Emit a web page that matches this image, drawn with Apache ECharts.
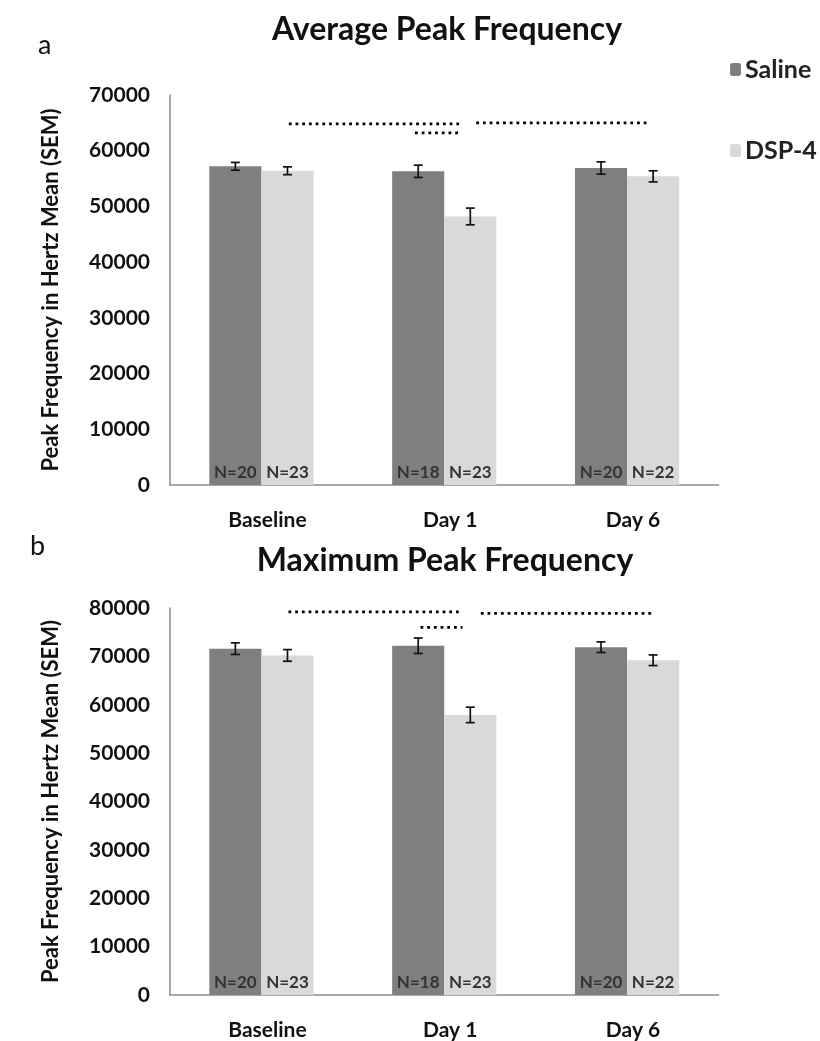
<!DOCTYPE html>
<html>
<head>
<meta charset="utf-8">
<script src="https://cdn.jsdelivr.net/npm/echarts@6/dist/echarts.min.js"></script>
<style>
  html, body { margin: 0; padding: 0; background: #fff; }
  #chart { width: 820px; height: 1041px; }
</style>
</head>
<body>
<div id="chart"></div>
<script>
// Time points and groups
const categories = ['Baseline', 'Day 1', 'Day 6'];
const groups = ['Saline', 'DSP-4'];

// Panel a: average peak frequency (Hz), mean and SEM
const avgSaline = [57200, 56300, 56900];
const avgSalineSem = [700, 1100, 1100];
const avgDsp = [56400, 48200, 55400];
const avgDspSem = [700, 1500, 1000];

// Panel b: maximum peak frequency (Hz), mean and SEM
const maxSaline = [71600, 72200, 71900];
const maxSalineSem = [1200, 1600, 1100];
const maxDsp = [70200, 57900, 69200];
const maxDspSem = [1200, 1600, 1100];

// Sample sizes per bar
const nSaline = [20, 18, 20];
const nDsp = [23, 23, 22];

// Significance brackets: [start index, end index, level] in category units
const avgBrackets = [[0.15, 1.10, 64800], [0.84, 1.08, 63200], [1.175, 2.115, 65000]];
const maxBrackets = [[0.148, 1.098, 79200], [0.87, 1.10, 76000], [1.20, 2.14, 78900]];

const FONT = 'Lato, "Open Sans", sans-serif';
const SALINE_COLOR = '#7f7f7f';
const DSP_COLOR = '#d9d9d9';
const CAT_GAP = 0.43;

const chart = echarts.init(document.getElementById('chart'), null, { renderer: 'canvas' });

function errorSeries(name, means, sems, side, gridIdx) {
  return {
    type: 'custom',
    name: name + ' SEM',
    xAxisIndex: gridIdx * 2,
    yAxisIndex: gridIdx,
    z: 5,
    silent: true,
    data: means.map((m, i) => [i, m - sems[i], m + sems[i]]),
    renderItem: function (params, api) {
      const band = api.size([1, 0])[0];
      const bw = band * (1 - CAT_GAP) / 2;
      const lo = api.coord([api.value(0), api.value(1)]);
      const hi = api.coord([api.value(0), api.value(2)]);
      const x = lo[0] + side * bw / 2;
      const cap = 4.5;
      const st = { stroke: '#111', lineWidth: 1.7 };
      return {
        type: 'group',
        children: [
          { type: 'line', shape: { x1: x, y1: lo[1], x2: x, y2: hi[1] }, style: st },
          { type: 'line', shape: { x1: x - cap, y1: lo[1], x2: x + cap, y2: lo[1] }, style: st },
          { type: 'line', shape: { x1: x - cap, y1: hi[1], x2: x + cap, y2: hi[1] }, style: st }
        ]
      };
    }
  };
}

function barSeries(name, values, ns, color, gridIdx) {
  return {
    type: 'bar',
    name: name,
    xAxisIndex: gridIdx * 2,
    yAxisIndex: gridIdx,
    data: values,
    barGap: '0%',
    barCategoryGap: (CAT_GAP * 100) + '%',
    itemStyle: { color: color },
    label: {
      show: true,
      position: 'insideBottom',
      distance: 4,
      formatter: p => 'N=' + ns[p.dataIndex],
      fontFamily: FONT,
      fontWeight: 'bold',
      fontSize: 17,
      color: '#333'
    },
    emphasis: { disabled: true }
  };
}

function bracketSeries(brackets, gridIdx) {
  return brackets.map((b, k) => ({
    type: 'line',
    name: 'bracket' + gridIdx + k,
    xAxisIndex: gridIdx * 2 + 1,
    yAxisIndex: gridIdx,
    data: [[b[0], b[2]], [b[1], b[2]]],
    symbol: 'none',
    silent: true,
    lineStyle: { color: '#000', width: 2.8, type: [2.8, 3.9], cap: 'butt' },
    z: 4
  }));
}

function catAxis(gridIdx) {
  return {
    type: 'category',
    gridIndex: gridIdx,
    data: categories,
    axisLine: { lineStyle: { color: '#8c8c8c', width: 1.5 } },
    axisTick: { show: false },
    axisLabel: {
      fontFamily: FONT, fontWeight: 'bold', fontSize: 21, color: '#111', margin: 25,
      padding: [0, 0, 0, 12]
    }
  };
}

function overlayAxis(gridIdx) {
  return { type: 'value', gridIndex: gridIdx, min: -0.5, max: 2.5, show: false };
}

function valAxis(gridIdx, max) {
  return {
    type: 'value',
    gridIndex: gridIdx,
    min: 0,
    max: max,
    interval: 10000,
    name: 'Peak Frequency in Hertz Mean (SEM)',
    nameLocation: 'middle',
    nameRotate: 90,
    nameGap: 108,
    nameTextStyle: { fontFamily: FONT, fontWeight: 'bold', fontSize: 22, color: '#111' },
    axisLine: { show: true, onZero: false, lineStyle: { color: '#8c8c8c', width: 1.5 } },
    axisTick: { show: false },
    splitLine: { show: false },
    axisLabel: {
      fontFamily: FONT, fontWeight: 'bold', fontSize: 21, color: '#111', margin: 20,
      formatter: v => String(v)
    }
  };
}

const option = {
  backgroundColor: '#ffffff',
  animation: false,
  legend: {
    data: groups,
    orient: 'vertical',
    left: 725,
    top: 52,
    itemGap: 56,
    itemWidth: 11,
    itemHeight: 13,
    textStyle: { fontFamily: FONT, fontWeight: 'bold', fontSize: 25, color: '#222', padding: [0, 0, 0, -1] },
    selectedMode: false
  },
  graphic: [
    { type: 'text', x: 447, y: 30, style: { text: 'Average Peak Frequency', font: 'bold 32px ' + FONT, fill: '#111', align: 'center', verticalAlign: 'middle' } },
    { type: 'text', x: 445, y: 561, style: { text: 'Maximum Peak Frequency', font: 'bold 32px ' + FONT, fill: '#111', align: 'center', verticalAlign: 'middle' } },
    { type: 'text', x: 38, y: 45, style: { text: 'a', font: '27px ' + FONT, fill: '#111', align: 'left', verticalAlign: 'middle' } },
    { type: 'text', x: 30, y: 546, style: { text: 'b', font: '27px ' + FONT, fill: '#111', align: 'left', verticalAlign: 'middle' } }
  ],
  grid: [
    { left: 170, right: 101.5, top: 95, bottom: 556 },
    { left: 170, right: 101.5, top: 608, bottom: 45 }
  ],
  xAxis: [catAxis(0), overlayAxis(0), catAxis(1), overlayAxis(1)],
  yAxis: [valAxis(0, 70000), valAxis(1, 80000)],
  series: [
    barSeries('Saline', avgSaline, nSaline, SALINE_COLOR, 0),
    barSeries('DSP-4', avgDsp, nDsp, DSP_COLOR, 0),
    barSeries('Saline', maxSaline, nSaline, SALINE_COLOR, 1),
    barSeries('DSP-4', maxDsp, nDsp, DSP_COLOR, 1),
    errorSeries('Saline', avgSaline, avgSalineSem, -1, 0),
    errorSeries('DSP-4', avgDsp, avgDspSem, 1, 0),
    errorSeries('Saline', maxSaline, maxSalineSem, -1, 1),
    errorSeries('DSP-4', maxDsp, maxDspSem, 1, 1),
    ...bracketSeries(avgBrackets, 0),
    ...bracketSeries(maxBrackets, 1)
  ]
};

chart.setOption(option);
</script>
</body>
</html>
